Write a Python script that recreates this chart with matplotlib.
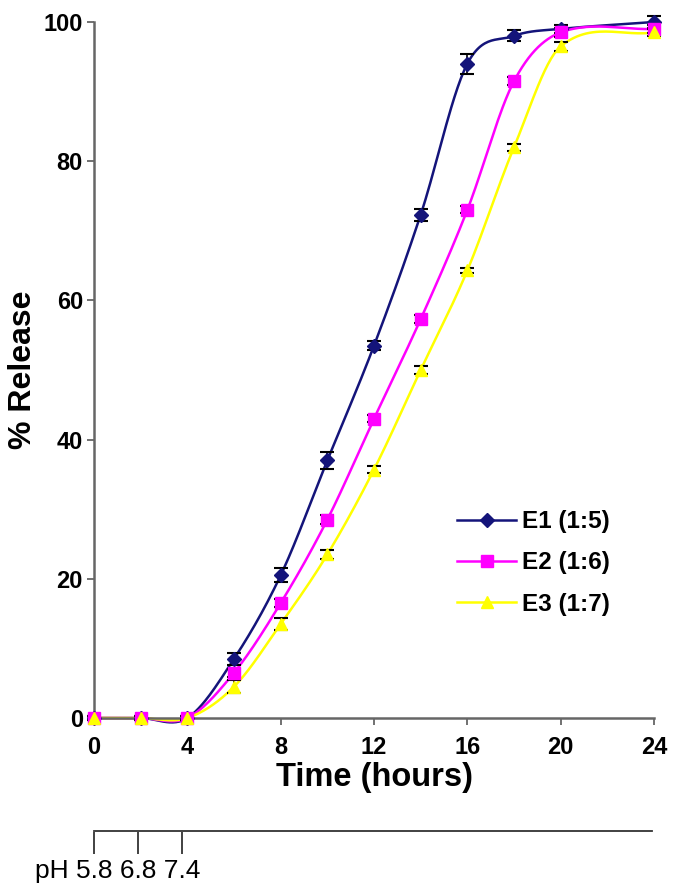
import numpy as np
import matplotlib
matplotlib.use("Agg")
import matplotlib.pyplot as plt

plt.rcParams['font.family'] = ['Liberation Sans', 'DejaVu Sans']

hours = [0, 2, 4, 6, 8, 10, 12, 14, 16, 18, 20, 24]
e1 = [0, 0, 0, 8.5, 20.5, 37.0, 53.5, 72.3, 94.0, 98.0, 99.0, 100.0]
e2 = [0, 0, 0, 6.5, 16.5, 28.5, 43.0, 57.3, 73.0, 91.5, 98.5, 99.0]
e3 = [0, 0, 0, 4.5, 13.5, 23.5, 35.7, 50.0, 64.3, 82.0, 96.5, 98.5]
e1_err = [0.3, 0.3, 0.3, 0.9, 1.0, 1.2, 0.6, 0.9, 1.4, 0.8, 0.6, 0.8]
e2_err = [0.3, 0.3, 0.3, 0.6, 0.6, 0.6, 0.5, 0.6, 0.5, 0.6, 0.6, 0.6]
e3_err = [0.3, 0.3, 0.3, 0.9, 0.8, 0.6, 0.5, 0.6, 0.4, 0.5, 0.6, 0.5]
labels = ['E1 (1:5)', 'E2 (1:6)', 'E3 (1:7)']
ph_hours = [0, 1.9, 3.8]
ph_label = 'pH 5.8 6.8 7.4'
xticks = [0, 4, 8, 12, 16, 20, 24]
yticks = [0, 20, 40, 60, 80, 100]


def catmull_rom(x, y, n=30):
    """Smooth line through the points (cardinal spline drawing)."""
    x = np.asarray(x, float); y = np.asarray(y, float)
    k = len(x)
    m = np.zeros(k)
    m[0] = (y[1] - y[0]) / (x[1] - x[0])
    m[-1] = (y[-1] - y[-2]) / (x[-1] - x[-2])
    for i in range(1, k - 1):
        m[i] = (y[i + 1] - y[i - 1]) / (x[i + 1] - x[i - 1])
    xs_all, ys_all = [], []
    for i in range(k - 1):
        h = x[i + 1] - x[i]
        t = np.linspace(0, 1, n)
        h00 = 2 * t**3 - 3 * t**2 + 1
        h10 = t**3 - 2 * t**2 + t
        h01 = -2 * t**3 + 3 * t**2
        h11 = t**3 - t**2
        xs_all.append(x[i] + t * h)
        ys_all.append(h00 * y[i] + h10 * h * m[i] + h01 * y[i + 1] + h11 * h * m[i + 1])
    return np.concatenate(xs_all), np.concatenate(ys_all)


fig = plt.figure(figsize=(6.74, 8.84), dpi=100)
ax = fig.add_axes([94 / 674, 1 - 718 / 884, 560 / 674, 696 / 884])

series = [(e1, e1_err, '#14147a', 'D', 7), (e2, e2_err, '#ff00ff', 's', 8), (e3, e3_err, '#ffff00', '^', 8)]
for (vals, err, col, mk, ms), lab in zip(series, labels):
    xs, ys = catmull_rom(hours, vals)
    ax.plot(xs, ys, color=col, lw=1.8, clip_on=False, zorder=2)
    ax.errorbar(hours, vals, yerr=err, fmt='none', ecolor='black', elinewidth=1.2,
                capsize=5, capthick=1.5, clip_on=False, zorder=3)
    ax.plot(hours, vals, linestyle='none', marker=mk, color=col, ms=ms, clip_on=False, zorder=4)
    ax.plot([], [], color=col, lw=1.8, marker=mk, ms=ms, label=lab)

ax.set_xlim(0, 24)
ax.set_ylim(0, 100)
ax.set_xticks(xticks)
ax.set_yticks(yticks)
for s in ['top', 'right']:
    ax.spines[s].set_visible(False)
for s in ['left', 'bottom']:
    ax.spines[s].set_color('#666666')
    ax.spines[s].set_linewidth(1.8)
ax.tick_params(axis='both', direction='out', length=5, width=1.3, color='#666666',
               labelsize=17)
ax.tick_params(axis='x', pad=8)
ax.tick_params(axis='y', pad=3)
for t in ax.get_xticklabels() + ax.get_yticklabels():
    t.set_fontweight('bold')
ax.set_xlabel('Time (hours)', fontsize=23.5, fontweight='bold', labelpad=2)
ax.set_ylabel('% Release', fontsize=23, fontweight='bold', labelpad=4)

leg = ax.legend(loc='upper left', bbox_to_anchor=(0.61, 0.33), frameon=False,
                prop={'size': 17.5, 'weight': 'bold'}, handlelength=2.4,
                labelspacing=0.75, handletextpad=0.25)

# pH axis
ax2 = fig.add_axes([94 / 674, 1 - 832 / 884, 558 / 674, 0.001])
ax2.set_xlim(0, 24)
ax2.set_ylim(0, 1)
for s in ['bottom', 'left', 'right']:
    ax2.spines[s].set_visible(False)
ax2.spines['top'].set_color('#333333')
ax2.spines['top'].set_linewidth(1.3)
ax2.set_yticks([])
ax2.xaxis.set_ticks_position('bottom')
ax2.set_xticks(ph_hours)
ax2.set_xticklabels([])
ax2.tick_params(axis='x', direction='out', length=16, width=1.3, color='#333333')
fig.text(35 / 674, 1 - 878 / 884, ph_label, fontsize=19, ha='left', va='baseline',
         family=['Liberation Sans Narrow', 'Liberation Sans'])

fig.savefig('out.png', dpi=100)
